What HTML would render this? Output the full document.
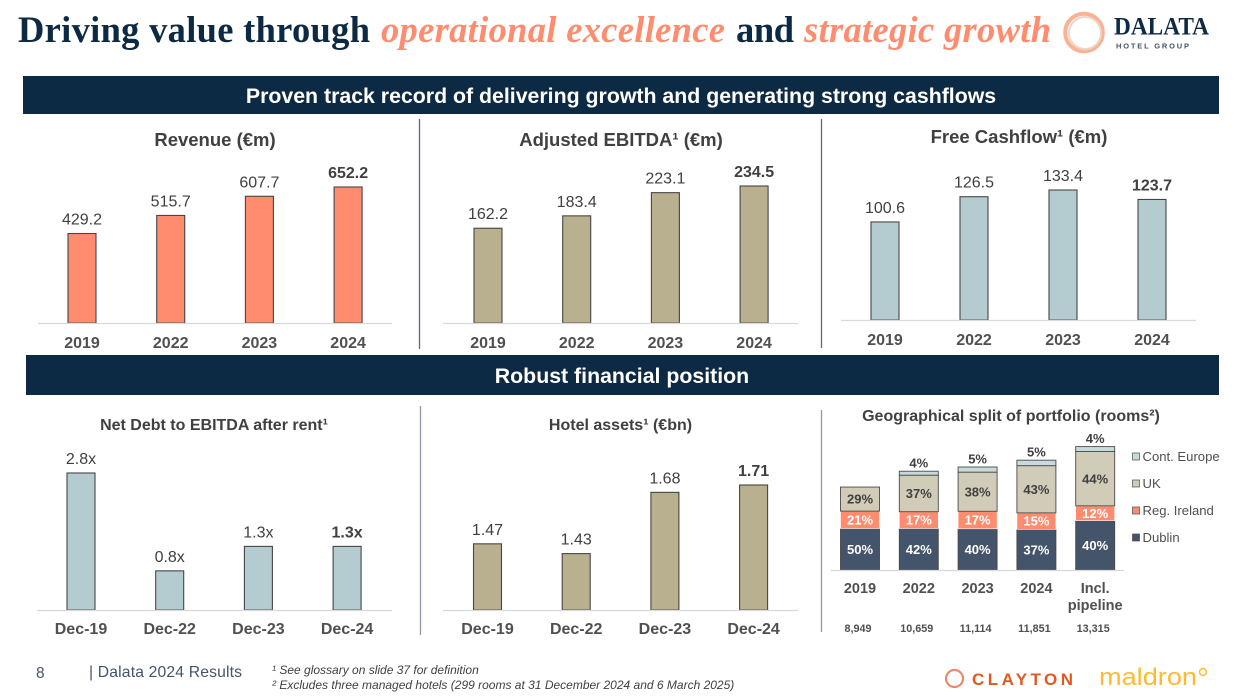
<!DOCTYPE html>
<html lang="en">
<head>
<meta charset="utf-8">
<title>Driving value through operational excellence and strategic growth</title>
<style>
html,body{margin:0;padding:0;background:#fff;}
#slide{display:block;width:1243px;height:696px;font-family:"Liberation Sans",sans-serif;}
text{font-family:"Liberation Sans",sans-serif;}
.ttl{font-family:"Liberation Serif",serif;font-size:36.5px;font-weight:bold;}
</style>
</head>
<body>
<svg id="slide" xmlns="http://www.w3.org/2000/svg" width="1243" height="696" viewBox="0 0 1243 696">
  <g>
    <text class="ttl" style="font-family:'Liberation Serif',serif" x="18" y="42" fill="#0d2a45" textLength="352">Driving value through</text>
    <text class="ttl" style="font-family:'Liberation Serif',serif" x="381" y="42" fill="#ff8c6e" font-style="italic" textLength="344">operational excellence</text>
    <text class="ttl" style="font-family:'Liberation Serif',serif" x="736" y="42" fill="#0d2a45" textLength="58">and</text>
    <text class="ttl" style="font-family:'Liberation Serif',serif" x="804" y="42" fill="#ff8c6e" font-style="italic" textLength="247">strategic growth</text>
  </g>

  <g>
    <circle cx="1084" cy="32.5" r="18.8" fill="none" stroke="#fbb194" stroke-width="4"/>
    <circle cx="1085" cy="33" r="16" fill="none" stroke="#e9d8c8" stroke-width="2"/>
    <text x="1114" y="34.5" style="font-family:'Liberation Serif',serif;font-size:25px;font-weight:bold" fill="#0d2a45" textLength="95" lengthAdjust="spacingAndGlyphs">DALATA</text>
    <text x="1116" y="48.5" font-size="7.5" font-weight="bold" fill="#44546a" textLength="73">HOTEL GROUP</text>
  </g>

  <rect x="23" y="76" width="1196" height="38" fill="#0d2a45"/>
  <text x="621" y="103" text-anchor="middle" font-size="21.3" font-weight="bold" fill="#fff">Proven track record of delivering growth and generating strong cashflows</text>
  <rect x="26" y="355" width="1193" height="40" fill="#0d2a45"/>
  <text x="622" y="383" text-anchor="middle" font-size="21.3" font-weight="bold" fill="#fff">Robust financial position</text>

  <line x1="419.5" y1="119" x2="419.5" y2="349" stroke="#5f6a7c" stroke-width="1.3"/>
  <line x1="821.5" y1="119" x2="821.5" y2="348" stroke="#5f6a7c" stroke-width="1.3"/>
  <line x1="420.5" y1="406" x2="420.5" y2="635" stroke="#8f98a8" stroke-width="1.3"/>
  <line x1="821.5" y1="410" x2="821.5" y2="632" stroke="#8f98a8" stroke-width="1.3"/>

  <text x="215" y="146" text-anchor="middle" font-size="18.5" font-weight="bold" fill="#404040">Revenue (€m)</text>
  <text x="621" y="146" text-anchor="middle" font-size="18.5" font-weight="bold" fill="#404040">Adjusted EBITDA¹ (€m)</text>
  <text x="1019" y="143" text-anchor="middle" font-size="18.5" font-weight="bold" fill="#404040">Free Cashflow¹ (€m)</text>
  <text x="214" y="430" text-anchor="middle" font-size="16" font-weight="bold" fill="#404040">Net Debt to EBITDA after rent¹</text>
  <text x="620.5" y="430" text-anchor="middle" font-size="16" font-weight="bold" fill="#404040">Hotel assets¹ (€bn)</text>
  <text x="1011" y="421" text-anchor="middle" font-size="16" font-weight="bold" fill="#404040">Geographical split of portfolio (rooms²)</text>

  <g id="charts"></g>

  <text x="36" y="678" font-size="15.5" fill="#44546a">8</text>
  <text x="89" y="677" font-size="15.7" fill="#44546a" textLength="153">| Dalata 2024 Results</text>
  <text x="272" y="674" font-size="12" font-style="italic" fill="#404040">¹ See glossary on slide 37 for definition</text>
  <text x="272" y="689" font-size="12" font-style="italic" fill="#404040">² Excludes three managed hotels (299 rooms at 31 December 2024 and 6 March 2025)</text>

  <g>
    <circle cx="954.5" cy="678.5" r="8.5" fill="none" stroke="#ea8a68" stroke-width="2.2"/>
    <text x="972" y="685" font-size="17" font-weight="bold" fill="#e2591f" textLength="101">CLAYTON</text>
  </g>
  <g>
    <text x="1099" y="685" font-size="24" fill="#fdbb30" textLength="98" lengthAdjust="spacingAndGlyphs">maldron</text>
    <circle cx="1203" cy="672" r="3.5" fill="none" stroke="#fdbb30" stroke-width="1.4"/>
  </g>
</svg>

<script>
const yearCategories = ['2019', '2022', '2023', '2024'];
const dateCategories = ['Dec-19', 'Dec-22', 'Dec-23', 'Dec-24'];
const revenueValues = [429.2, 515.7, 607.7, 652.2];
const ebitdaValues = [162.2, 183.4, 223.1, 234.5];
const cashflowValues = [100.6, 126.5, 133.4, 123.7];
const netDebtValues = [2.8, 0.8, 1.3, 1.3];
const hotelAssetValues = [1.47, 1.43, 1.68, 1.71];

const splitCategories = ['2019', '2022', '2023', '2024', 'Incl.|pipeline'];
const splitRooms = [8949, 10659, 11114, 11851, 13315];
const splitRoomLabels = ['8,949', '10,659', '11,114', '11,851', '13,315'];
const dublinShares = [50, 42, 40, 37, 40];
const regIrelandShares = [21, 17, 17, 15, 12];
const ukShares = [29, 37, 38, 43, 44];
const contEuropeShares = [0, 4, 5, 5, 4];
const splitSeriesNames = ['Dublin', 'Reg. Ireland', 'UK', 'Cont. Europe'];

const NS = 'http://www.w3.org/2000/svg';
const chartsRoot = document.getElementById('charts');

function make(tag, attrs, parent) {
  const el = document.createElementNS(NS, tag);
  for (const k in attrs) el.setAttribute(k, attrs[k]);
  parent.appendChild(el);
  return el;
}

function linearAxis(domainMin, domainMax, baseY, topY) {
  return function (v) {
    return baseY - (v - domainMin) / (domainMax - domainMin) * (baseY - topY);
  };
}

function bandAxis(first, step) {
  return function (i) {
    return first + i * step;
  };
}

function drawColumnChart(cfg) {
  const y = linearAxis(cfg.min, cfg.max, cfg.baseY, cfg.topY);
  const x = bandAxis(cfg.firstX, cfg.step);
  const group = make('g', {}, chartsRoot);
  
  
  cfg.values.forEach(function (v, i) {
    const top = y(v);
    const bar = make('rect', {
      x: x(i) - 14, y: top, width: 28, height: cfg.baseY - top,
      fill: cfg.fill, stroke: '#454545', 'stroke-width': 1.1
    }, group);
    
    

    const isLast = i === cfg.values.length - 1;
    const label = make('text', {
      x: x(i), y: top - 9, 'text-anchor': 'middle', 'font-size': 16,
      'font-weight': isLast ? 'bold' : 'normal', fill: '#404040'
    }, group);
    
    
    label.textContent = cfg.format(v);

    const tick = make('text', {
      x: x(i), y: cfg.baseY + cfg.tickOffset, 'text-anchor': 'middle', 'font-size': 16,
      'font-weight': 'bold', fill: '#505050'
    }, group);
    
    
    tick.textContent = cfg.categories[i];
  });
  const axis = make('line', {
    x1: cfg.axisX1, x2: cfg.axisX2, y1: cfg.baseY + 0.5, y2: cfg.baseY + 0.5,
    stroke: '#d9d9d9', 'stroke-width': 1.2
  }, group);
  
  
}

function oneDecimal(v) { return v.toFixed(1); }
function multiple(v) { return v.toFixed(1) + 'x'; }
function twoDecimals(v) { return v.toFixed(2); }

drawColumnChart({ name: 'revenue-chart', values: revenueValues, categories: yearCategories,
  min: 0, max: 652.2, baseY: 323, topY: 187, firstX: 82, step: 88.7, fill: '#ff8c6e',
  axisX1: 38, axisX2: 392, tickOffset: 25, format: oneDecimal });
drawColumnChart({ name: 'ebitda-chart', values: ebitdaValues, categories: yearCategories,
  min: 0, max: 234.5, baseY: 323, topY: 186, firstX: 488, step: 88.7, fill: '#b9b08f',
  axisX1: 443, axisX2: 798, tickOffset: 25, format: oneDecimal });
drawColumnChart({ name: 'cashflow-chart', values: cashflowValues, categories: yearCategories,
  min: 0, max: 133.4, baseY: 320, topY: 190, firstX: 885, step: 89, fill: '#b4cbd0',
  axisX1: 841, axisX2: 1196, tickOffset: 25, format: oneDecimal });
drawColumnChart({ name: 'net-debt-chart', values: netDebtValues, categories: dateCategories,
  min: 0, max: 2.8, baseY: 610, topY: 473, firstX: 81, step: 88.7, fill: '#b4cbd0',
  axisX1: 37, axisX2: 392, tickOffset: 24, format: multiple });
drawColumnChart({ name: 'hotel-assets-chart', values: hotelAssetValues, categories: dateCategories,
  min: 1.2, max: 1.71, baseY: 610, topY: 485, firstX: 487.5, step: 88.7, fill: '#b9b08f',
  axisX1: 443, axisX2: 798, tickOffset: 24, format: twoDecimals });

const splitFills = ['#44546a', '#ff8c6e', '#d1ccb8', '#c9dadd'];
const splitTextFills = ['#ffffff', '#ffffff', '#404040', '#404040'];
const splitBaseY = 570;
const splitY = linearAxis(0, 13315, splitBaseY, 446.6);
const splitX = bandAxis(860, 58.8);
const splitGroup = make('g', {}, chartsRoot);


const splitSeries = [dublinShares, regIrelandShares, ukShares, contEuropeShares];

splitRooms.forEach(function (rooms, i) {
  let cursor = splitBaseY;
  splitSeries.forEach(function (shares, s) {
    const share = shares[i];
    if (share <= 0) return;
    const h = splitBaseY - splitY(rooms * share / 100);
    const seg = make('rect', {
      x: splitX(i) - 19.5, y: cursor - h, width: 39, height: h,
      fill: splitFills[s], stroke: s === 1 ? '#ffffff' : '#4a4a4a', 'stroke-width': s === 1 ? 0.6 : 0.9
    }, splitGroup);
    
    

    const label = make('text', {
      x: splitX(i), 'text-anchor': 'middle', 'font-size': 13, 'font-weight': 'bold',
      y: s === 3 ? cursor - h - 3.5 : cursor - h / 2 + 4.6,
      fill: splitTextFills[s]
    }, splitGroup);
    
    
    label.textContent = share + '%';
    cursor -= h;
  });

  const lines = splitCategories[i].split('|');
  lines.forEach(function (line, n) {
    const tick = make('text', {
      x: splitX(i), y: 593 + n * 17, 'text-anchor': 'middle', 'font-size': 14.5,
      'font-weight': 'bold', fill: '#505050'
    }, splitGroup);
    
    
    tick.textContent = line;
  });

  const roomLabel = make('text', {
    x: splitX(i) - 2, y: 632, 'text-anchor': 'middle', 'font-size': 10.8,
    'font-weight': 'bold', fill: '#505050'
  }, splitGroup);
  
  
  roomLabel.textContent = splitRoomLabels[i];
});

const splitAxis = make('line', {
  x1: 831, x2: 1124, y1: splitBaseY + 0.5, y2: splitBaseY + 0.5, stroke: '#d9d9d9', 'stroke-width': 1.2
}, splitGroup);



splitSeriesNames.forEach(function (name, s) {
  const rowY = bandAxis(537.5, -27)(s);
  const swatch = make('rect', {
    x: 1132.5, y: rowY - 3.5, width: 7, height: 7, fill: splitFills[s], stroke: '#4a4a4a', 'stroke-width': 0.7
  }, splitGroup);
  
  
  const text = make('text', {
    x: 1142.5, y: rowY + 4.5, 'font-size': 13.1, fill: '#505050'
  }, splitGroup);
  
  
  text.textContent = name;
});
</script>
</body>
</html>
